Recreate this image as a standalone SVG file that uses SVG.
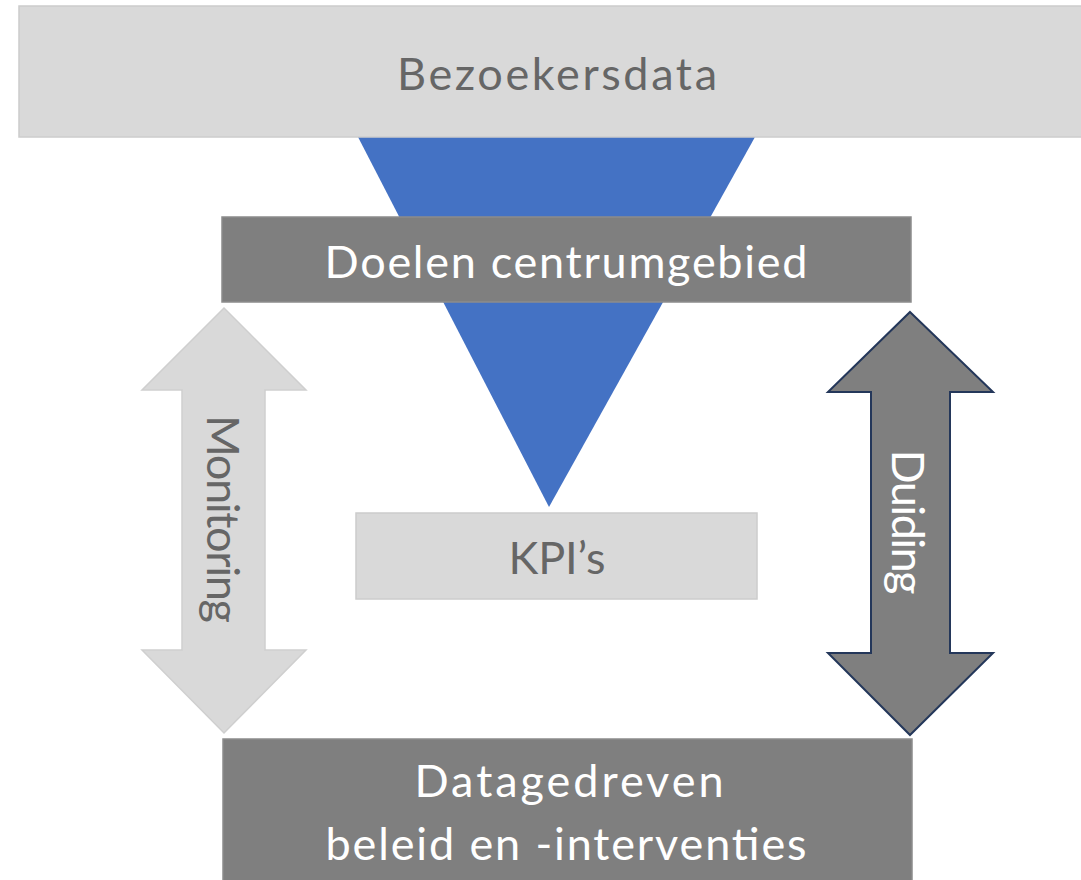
<svg xmlns="http://www.w3.org/2000/svg" width="1081" height="880" viewBox="0 0 1081 880">
  <style>
    .light { fill: #d9d9d9; stroke: #cccccc; stroke-width: 1.5; }
    .dark { fill: #7f7f7f; stroke: #8c8c8c; stroke-width: 1.5; }
    .funnel { fill: #4472c4; }
    .lbl { font-family: Lato, "Liberation Sans", sans-serif; font-size: 45px; text-anchor: middle; }
    .grey { fill: #666666; }
    .white { fill: #ffffff; }
  </style>

  <rect x="0" y="0" width="1081" height="880" fill="#ffffff"/>

  <!-- funnel from visitor data down to the KPIs -->
  <g id="funnel">
    <polygon class="funnel" points="358,137 755,137 549,507"/>
  </g>

  <g id="bezoekersdata">
    <rect class="light" x="19" y="6" width="1070" height="131"/>
    <text class="lbl grey" x="557" y="90" textLength="320">Bezoekersdata</text>
  </g>

  <g id="doelen">
    <rect class="dark" x="222" y="217" width="689" height="85"/>
    <text class="lbl white" x="566" y="278" textLength="483">Doelen centrumgebied</text>
  </g>

  <g id="kpis">
    <rect class="light" x="356" y="513" width="401" height="86"/>
    <text class="lbl grey" x="557" y="574" textLength="97">KPI’s</text>
  </g>

  <g id="beleid">
    <rect class="dark" x="223" y="739" width="689" height="150"/>
    <text class="lbl white" x="569" y="797" textLength="309">Datagedreven</text>
    <text class="lbl white" x="566" y="860" textLength="481">beleid en -interventies</text>
  </g>

  <!-- two-way arrows between goals and policy -->
  <g id="connectors">
    <g id="monitoring">
      <polygon fill="#d9d9d9" stroke="#cfcfcf" stroke-width="1.5"
        points="224,308 306,390 265,390 265,650 306,650 224,733 142,650 182,650 182,390 142,390"/>
      <text class="lbl grey" transform="translate(207,519) rotate(90)" x="0" y="0" textLength="208">Monitoring</text>
    </g>
    <g id="duiding">
      <polygon fill="#7f7f7f" stroke="#24375a" stroke-width="2"
        points="910,312 993,392 950,392 950,653 993,653 910,735 828,653 871,653 871,392 828,392"/>
      <text class="lbl white" transform="translate(892,522) rotate(90)" x="0" y="0" textLength="145">Duiding</text>
    </g>
  </g>
</svg>
